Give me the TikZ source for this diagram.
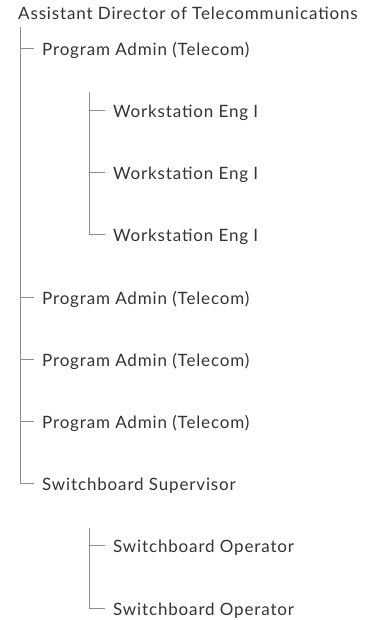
\documentclass[tikz,border=0pt]{standalone}
\usepackage{fontspec}
\setmainfont{Lato}[LetterSpace=5]
\definecolor{txt}{HTML}{333333}
\definecolor{ln}{HTML}{8C8C8C}
\begin{document}
\begin{tikzpicture}[x=1pt,y=-1pt,
  lbl/.style={anchor=base west,inner sep=0pt,text height=14pt,text depth=0pt,font=\fontsize{17}{19}\selectfont,text=txt},
  conn/.style={draw=ln,line width=0.9pt}]
\useasboundingbox (0,0) rectangle (378,620);
\node[lbl] (root) at (18,19.5) {Assistant Director of Telecommunications};
\node[lbl] (p1) at (42,55.5) {Program Admin (Telecom)};
\node[lbl] (w1) at (113,117.5) {Workstation Eng I};
\node[lbl] (w2) at (113,179.7) {Workstation Eng I};
\node[lbl] (w3) at (113,241.9) {Workstation Eng I};
\node[lbl] (p2) at (42,304.1) {Program Admin (Telecom)};
\node[lbl] (p3) at (42,366.3) {Program Admin (Telecom)};
\node[lbl] (p4) at (42,428.5) {Program Admin (Telecom)};
\node[lbl] (sup) at (42,490.7) {Switchboard Supervisor};
\node[lbl] (o1) at (113,552.9) {Switchboard Operator};
\node[lbl] (o2) at (113,615.1) {Switchboard Operator};
\coordinate (v0) at (20,27);
\coordinate (v1) at (89.5,92);
\coordinate (v2) at (89.5,528);
\foreach \c in {p1,p2,p3,p4,sup}
  \draw[conn] (v0) |- ([xshift=-8pt]\c.west);
\foreach \c in {w1,w2,w3}
  \draw[conn] (v1) |- ([xshift=-8pt]\c.west);
\foreach \c in {o1,o2}
  \draw[conn] (v2) |- ([xshift=-8pt]\c.west);
\end{tikzpicture}
\end{document}
